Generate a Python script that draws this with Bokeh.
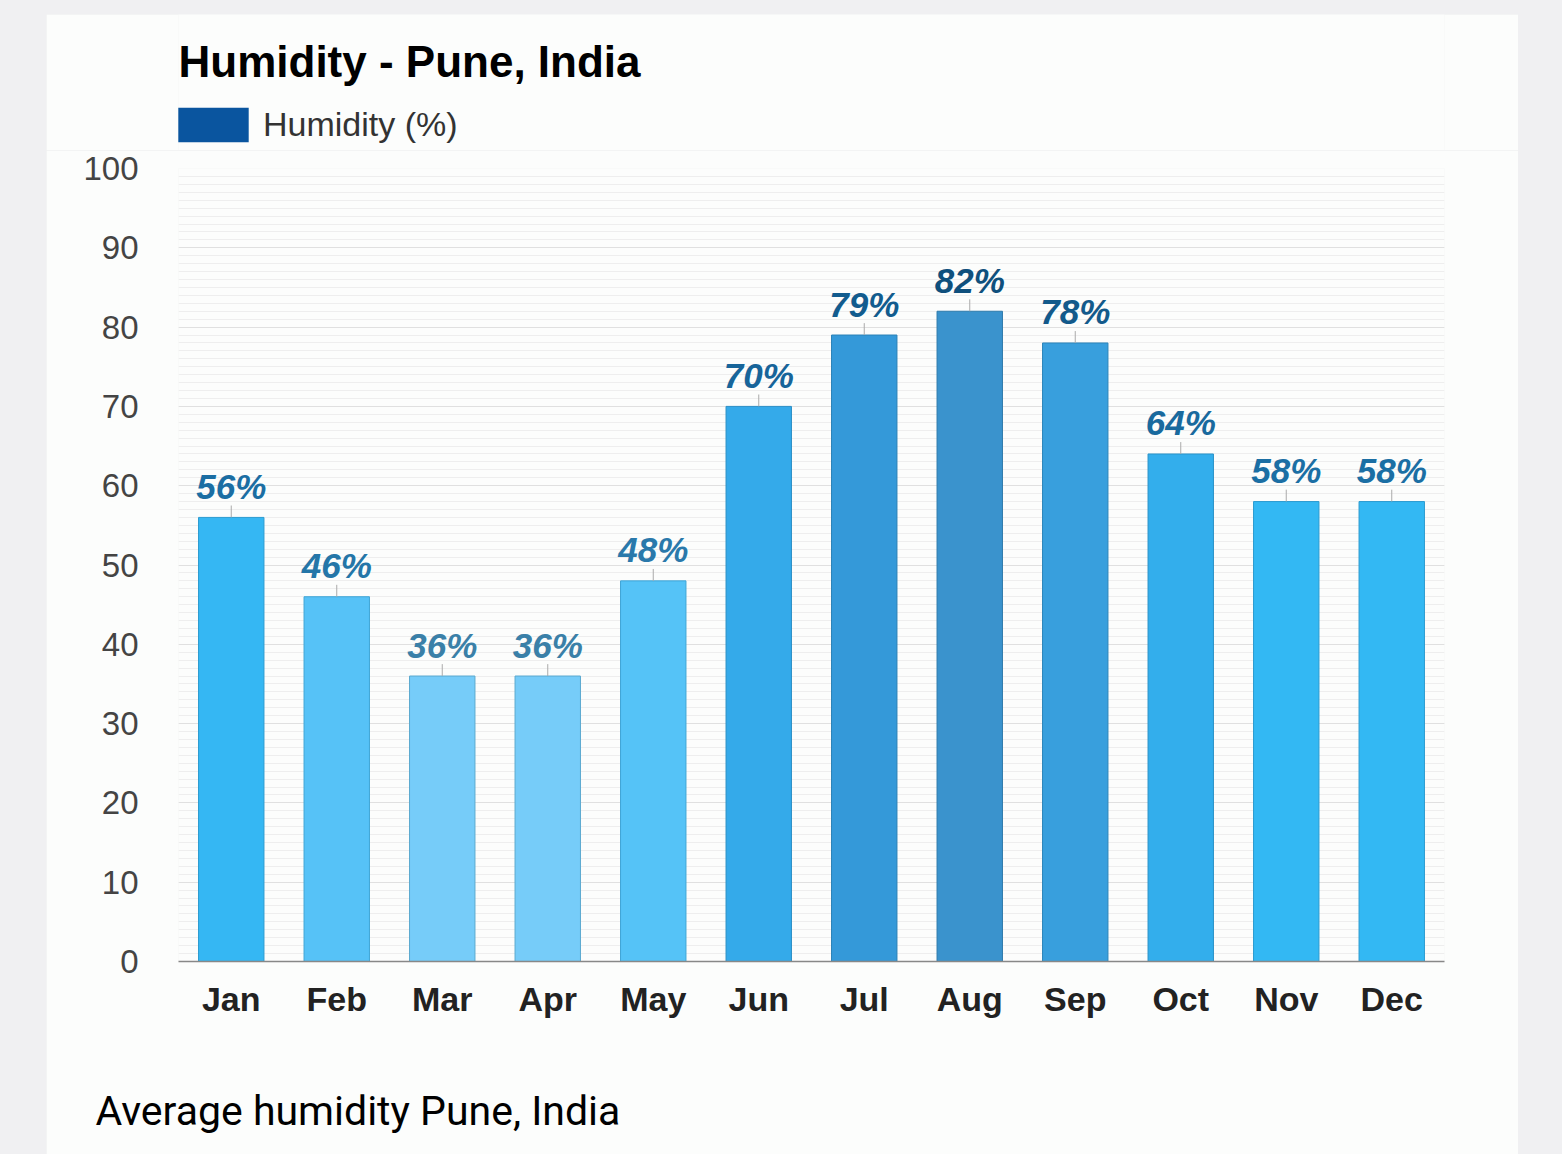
from bokeh.plotting import figure
from bokeh.layouts import column
from bokeh.models import (ColumnDataSource, Legend, LegendItem, Label, Title,
                          SingleIntervalTicker, Range1d, FactorRange)
from bokeh.core.properties import value
from bokeh.embed import file_html
from bokeh.resources import INLINE

# ---- data ----
months = ["Jan", "Feb", "Mar", "Apr", "May", "Jun",
          "Jul", "Aug", "Sep", "Oct", "Nov", "Dec"]
humidity = [56, 46, 36, 36, 48, 70, 79, 82, 78, 64, 58, 58]
value_labels = [f"{v}%" for v in humidity]

title_text = "Humidity - Pune, India"
legend_text = "Humidity (%)"
caption_text = "Average humidity Pune, India"

# ---- styles ----
bar_colors = ["#35b7f3", "#56c2f7", "#76ccf9", "#76ccf9", "#55c3f7", "#34aaea",
              "#3499d9", "#3a93cd", "#389fdd", "#33aeec", "#33b8f3", "#33b8f3"]
bar_lines = ["#2b9bd0", "#3fa6d6", "#5aa9cf", "#5aa9cf", "#3ea5d6", "#2a8fc6",
             "#2a80b6", "#2e7aab", "#2c85b9", "#2a93c8", "#2b9bd0", "#2b9bd0"]
label_colors = ["#1b6ea3", "#2476a8", "#3a80a8", "#3a80a8", "#2a79ab", "#17659a",
                "#125c8e", "#0f507d", "#135a8b", "#196a9e", "#1b6fa4", "#1b6fa4"]
legend_color = "#0a559f"
bg = "#fcfdfc"

src = ColumnDataSource(dict(
    month=months, value=humidity, label=value_labels,
    lead_top=[v + 1.5 for v in humidity],
    color=bar_colors, line=bar_lines, tcolor=label_colors,
))

# ---------------- header: title + legend ----------------
HEAD_H = 136
head = figure(width=1472, height=HEAD_H, x_range=Range1d(0, 1472),
              y_range=Range1d(0, HEAD_H), x_axis_type=None, y_axis_type=None,
              min_border=0, output_backend="svg", toolbar_location=None)
head.background_fill_color = bg
head.border_fill_color = bg
head.outline_line_color = None
head.grid.visible = False

head.add_layout(Label(x=0, y=89, x_units="screen", y_units="screen",
                      text=title_text, text_font="Liberation Sans",
                      text_font_size="44px", text_font_style="bold",
                      text_color="#000000", text_baseline="alphabetic"))

dummy = head.vbar(x=[0], top=[0], bottom=[0], width=1,
                  fill_color=legend_color, line_color=None)
legend = Legend(items=[LegendItem(label=legend_text, renderers=[dummy])],
                location=(-9, 4), orientation="horizontal",
                glyph_width=88, glyph_height=43, label_height=43,
                label_text_font="Liberation Sans", label_text_font_size="34px",
                label_text_color="#333333", label_standoff=6,
                label_text_baseline="middle",
                padding=0, margin=0, spacing=0,
                border_line_color=None, background_fill_alpha=0)
head.add_layout(legend, "center")

# ---------------- main chart ----------------
p = figure(x_range=FactorRange(*months), y_range=Range1d(0, 100),
           frame_width=1266, frame_height=793,
           min_border_left=132, min_border_right=74,
           min_border_top=18, min_border_bottom=193,
           output_backend="svg", toolbar_location=None)
p.background_fill_color = bg
p.border_fill_color = bg
p.outline_line_color = None

p.xgrid.grid_line_color = None
p.yaxis.ticker = SingleIntervalTicker(interval=10, num_minor_ticks=10)
p.ygrid.grid_line_color = "#e0e0e0"
p.ygrid.minor_grid_line_color = "#eeeeee"

p.yaxis.axis_line_color = None
p.yaxis.major_tick_line_color = None
p.yaxis.minor_tick_line_color = None
p.yaxis.major_label_text_font = "Liberation Sans"
p.yaxis.major_label_text_font_size = "33px"
p.yaxis.major_label_text_color = "#444444"
p.yaxis.major_label_standoff = 34

p.xaxis.axis_line_color = "#888888"
p.xaxis.axis_line_width = 1.5
p.xaxis.major_tick_line_color = None
p.xaxis.minor_tick_line_color = None
p.xaxis.major_label_text_font = "Liberation Sans"
p.xaxis.major_label_text_font_size = "34px"
p.xaxis.major_label_text_font_style = "bold"
p.xaxis.major_label_text_color = "#222222"
p.xaxis.major_label_standoff = 12

p.vbar(x="month", top="value", bottom=0, width=0.62, source=src,
       fill_color="color", line_color="line", line_width=1)

p.segment(x0="month", y0="value", x1="month", y1="lead_top", source=src,
          line_color="#aaaaaa", line_width=1)
p.text(x="month", y="value", text="label", source=src,
       text_align="center", text_baseline="alphabetic", y_offset=-31,
       text_font=value("Liberation Sans"), text_font_size="35px",
       text_font_style="bold italic", text_color="tcolor")

caption = Title(text=caption_text, align="left", offset=-83, standoff=128,
                text_font="Roboto", text_font_size="41px",
                text_font_style="normal", text_color="#000000")
p.add_layout(caption, "below")

layout = column(head, p, spacing=0)

html = file_html(layout, INLINE)
html = html.replace("</head>",
                    "<style>html,body{margin:0;background:#f0f0f2;}"
                    "body{padding:14px 0 0 46px;}</style></head>", 1)
open("out.html", "w").write(html)
